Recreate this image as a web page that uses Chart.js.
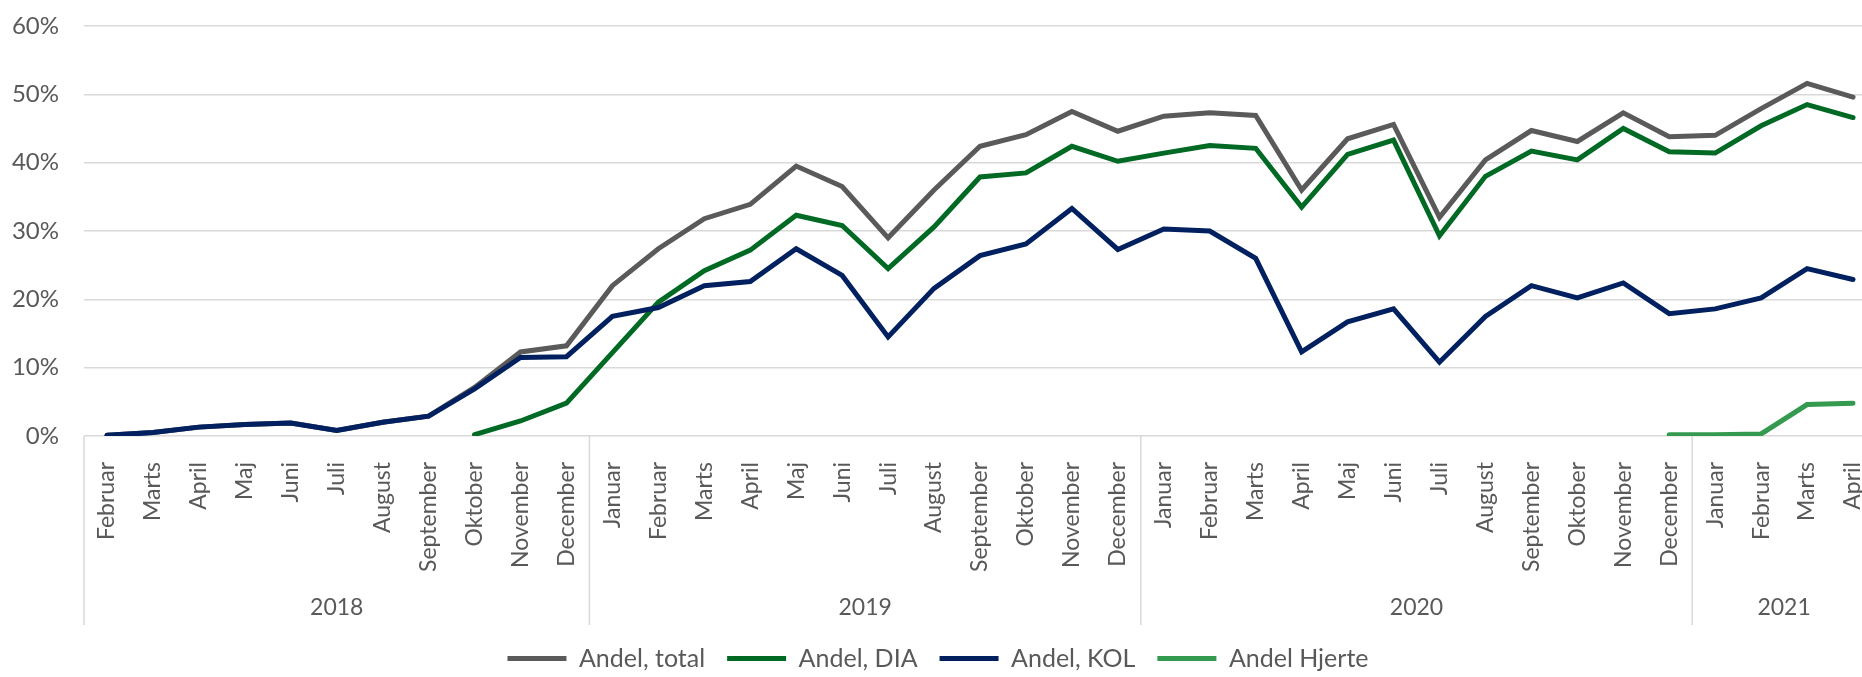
<!DOCTYPE html>
<html>
<head>
<meta charset="utf-8">
<script src="https://cdn.jsdelivr.net/npm/chart.js@4.4.1/dist/chart.umd.min.js"></script>
<style>
  html, body { margin: 0; padding: 0; overflow: hidden; background: #fff; }
  canvas { display: block; }
</style>
</head>
<body>
<canvas id="chart" width="1876" height="677"></canvas>
<script>
'use strict';

var months = [
  'Februar', 'Marts', 'April', 'Maj', 'Juni', 'Juli', 'August', 'September', 'Oktober', 'November', 'December',
  'Januar', 'Februar', 'Marts', 'April', 'Maj', 'Juni', 'Juli', 'August', 'September', 'Oktober', 'November', 'December',
  'Januar', 'Februar', 'Marts', 'April', 'Maj', 'Juni', 'Juli', 'August', 'September', 'Oktober', 'November', 'December',
  'Januar', 'Februar', 'Marts', 'April'
];

var years = ['2018', '2019', '2020', '2021'];
var monthsPerYear = [11, 12, 12, 4];

var andelTotal = [
  0.1, 0.5, 1.3, 1.7, 1.9, 0.8, 2.0, 2.9, 7.1, 12.3, 13.2,
  22.0, 27.4, 31.8, 33.9, 39.5, 36.5, 29.0, 36.0, 42.4, 44.1, 47.5, 44.6,
  46.8, 47.3, 46.9, 36.0, 43.5, 45.6, 32.0, 40.4, 44.7, 43.1, 47.3, 43.8,
  44.0, 47.9, 51.6, 49.6
];

var andelDia = [
  null, null, null, null, null, null, null, null, 0.2, 2.2, 4.8,
  12.2, 19.6, 24.2, 27.2, 32.3, 30.8, 24.5, 30.6, 37.9, 38.5, 42.4, 40.2,
  41.4, 42.5, 42.1, 33.5, 41.2, 43.3, 29.3, 38.0, 41.7, 40.4, 45.0, 41.6,
  41.4, 45.4, 48.5, 46.6
];

var andelKol = [
  0.1, 0.5, 1.3, 1.7, 1.9, 0.8, 2.0, 2.9, 6.9, 11.5, 11.6,
  17.5, 18.8, 22.0, 22.6, 27.4, 23.5, 14.5, 21.6, 26.4, 28.1, 33.3, 27.3,
  30.3, 30.0, 26.0, 12.3, 16.7, 18.6, 10.8, 17.5, 22.0, 20.2, 22.4, 17.9,
  18.6, 20.2, 24.5, 22.9
];

var andelHjerte = [
  null, null, null, null, null, null, null, null, null, null, null,
  null, null, null, null, null, null, null, null, null, null, null, null,
  null, null, null, null, null, null, null, null, null, null, null, 0.2,
  0.2, 0.3, 4.6, 4.8
];

var yTicks = [0, 10, 20, 30, 40, 50, 60];

var FONT = 'Lato, "Open Sans", sans-serif';
var TEXT = '#595959';
var GRID = '#d9d9d9';

function line(label, data, color) {
  return {
    label: label,
    data: data,
    borderColor: color,
    backgroundColor: color,
    borderWidth: 5,
    borderCapStyle: 'round',
    pointRadius: 0,
    pointHoverRadius: 0,
    tension: 0,
    fill: false,
    spanGaps: false
  };
}

// year labels and separators under the month labels
var yearAxis = {
  id: 'yearAxis',
  afterInit: function (chart) {
    // pin the legend height so the plot bottom lands where it should
    var legend = chart.legend;
    var fit = legend.fit;
    legend.fit = function () {
      fit.call(this);
      this.height = 53;
    };
  },
  afterDraw: function (chart) {
    var ctx = chart.ctx;
    var x = chart.scales.x;
    var half = (x.getPixelForValue(1) - x.getPixelForValue(0)) / 2;
    var top = chart.chartArea.bottom;
    var start = 0;
    ctx.save();
    ctx.strokeStyle = GRID;
    ctx.lineWidth = 1.5;
    ctx.fillStyle = TEXT;
    ctx.font = '23px ' + FONT;
    ctx.textAlign = 'center';
    ctx.textBaseline = 'middle';
    years.forEach(function (year, i) {
      var end = start + monthsPerYear[i] - 1;
      var left = x.getPixelForValue(start) - half;
      var right = x.getPixelForValue(end) + half;
      ctx.beginPath();
      ctx.moveTo(left, top);
      ctx.lineTo(left, 625);
      ctx.stroke();
      ctx.fillText(year, (left + right) / 2, 608);
      start = end + 1;
    });
    ctx.restore();
  }
};

var ctx = document.getElementById('chart').getContext('2d');

new Chart(ctx, {
  type: 'line',
  data: {
    labels: months,
    // reversed so that later series are painted on top
    datasets: [
      line('Andel Hjerte', andelHjerte, '#339a4f'),
      line('Andel, KOL', andelKol, '#002060'),
      line('Andel, DIA', andelDia, '#006a25'),
      line('Andel, total', andelTotal, '#5a5a5a')
    ]
  },
  options: {
    responsive: false,
    animation: false,
    layout: { padding: { top: 26, right: 0, left: 0, bottom: 0 } },
    plugins: {
      tooltip: { enabled: false },
      legend: {
        position: 'bottom',
        reverse: true,
        labels: {
          usePointStyle: true,
          pointStyle: 'line',
          pointStyleWidth: 59,
          padding: 22,
          color: TEXT,
          font: { family: FONT, size: 25 }
        }
      }
    },
    scales: {
      x: {
        offset: true,
        grid: { display: false },
        border: { display: false },
        ticks: {
          autoSkip: false,
          minRotation: 90,
          maxRotation: 90,
          padding: 18,
          color: TEXT,
          font: { family: FONT, size: 23 }
        },
        afterFit: function (scale) {
          scale.height = 188;
          scale.paddingLeft = 0;
          scale.paddingRight = 0;
        }
      },
      y: {
        min: 0,
        max: 60,
        afterBuildTicks: function (scale) {
          scale.ticks = yTicks.map(function (v) { return { value: v }; });
        },
        grid: { color: GRID, lineWidth: 1.5, drawTicks: false },
        border: { display: false },
        ticks: {
          padding: 25,
          color: TEXT,
          font: { family: FONT, size: 24 },
          callback: function (v) { return v + '%'; }
        },
        afterFit: function (scale) {
          scale.width = 84;
          scale.paddingTop = 0;
          scale.paddingBottom = 0;
        }
      }
    }
  },
  plugins: [yearAxis]
});
</script>
</body>
</html>
